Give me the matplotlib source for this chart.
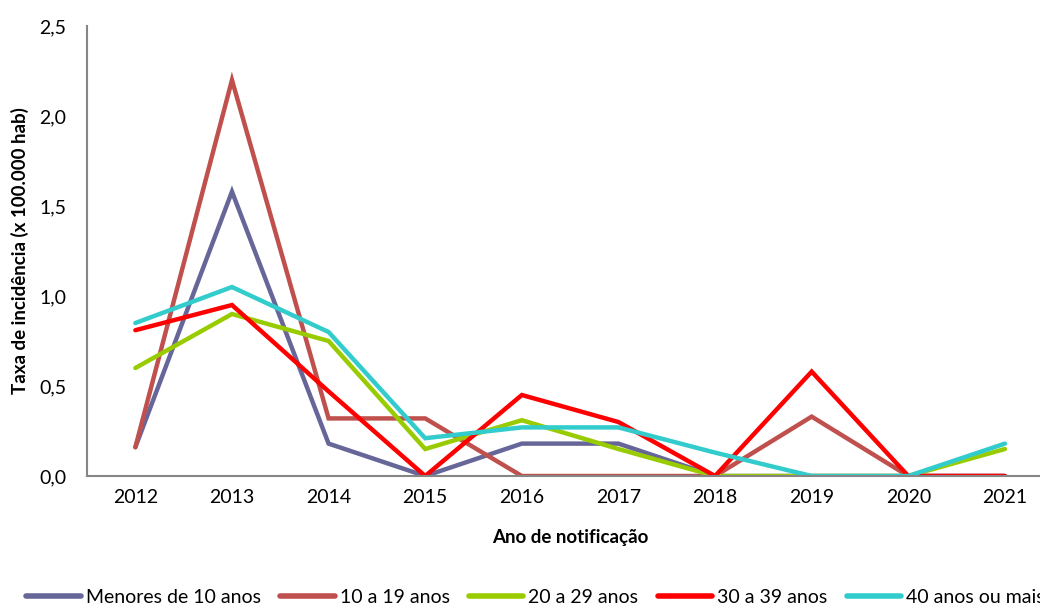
import matplotlib.pyplot as plt
import numpy as np

plt.rcParams['font.family'] = ['Lato', 'DejaVu Sans']

anos = ['2012', '2013', '2014', '2015', '2016', '2017', '2018', '2019', '2020', '2021']

menores_10 = [0.16, 1.58, 0.18, 0.0, 0.18, 0.18, 0.0, 0.0, 0.0, 0.0]
de_10_19 = [0.16, 2.20, 0.32, 0.32, 0.0, 0.0, 0.0, 0.33, 0.0, 0.0]
de_20_29 = [0.60, 0.90, 0.75, 0.15, 0.31, 0.15, 0.0, 0.0, 0.0, 0.15]
de_30_39 = [0.81, 0.95, 0.47, 0.0, 0.45, 0.30, 0.0, 0.58, 0.0, 0.0]
mais_40 = [0.85, 1.05, 0.80, 0.21, 0.27, 0.27, 0.13, 0.0, 0.0, 0.18]

series = [
    ('Menores de 10 anos', menores_10, '#666699'),
    ('10 a 19 anos', de_10_19, '#C0504D'),
    ('20 a 29 anos', de_20_29, '#99CC00'),
    ('30 a 39 anos', de_30_39, '#FF0000'),
    ('40 anos ou mais', mais_40, '#33CCCC'),
]

fig = plt.figure(figsize=(10.4, 6.05), dpi=100)
ax = fig.add_axes([0.0837, 0.2132, 0.929, 0.7438])

x = np.arange(len(anos))
for nome, vals, cor in series:
    ax.plot(x, vals, color=cor, lw=3.2, label=nome, solid_capstyle='round', solid_joinstyle='miter')

ax.set_xlim(-0.5, 9.5)
ax.set_ylim(0, 2.5)
ax.set_xticks(x)
ax.set_xticklabels(anos, fontsize=14)
yt = [0, 0.5, 1.0, 1.5, 2.0, 2.5]
ax.set_yticks(yt)
ax.set_yticklabels([f'{v:.1f}'.replace('.', ',') for v in yt], fontsize=14)
ax.tick_params(length=0, pad=15)
ax.tick_params(axis='x', pad=9)

for s in ['top', 'right']:
    ax.spines[s].set_visible(False)
for s in ['left', 'bottom']:
    ax.spines[s].set_color('#868686')
    ax.spines[s].set_linewidth(1.5)

ax.set_xlabel('Ano de notificação', fontsize=13.5, fontweight='bold', labelpad=17)
ax.set_ylabel('Taxa de incidência (x 100.000 hab)', fontsize=13.5, fontweight='bold', labelpad=7)

leg = fig.legend(loc='center left', bbox_to_anchor=(0.018, 0.013), ncol=5, frameon=False,
                 fontsize=14, handlelength=2.8, handletextpad=0.25, columnspacing=1.0,
                 borderaxespad=0)
for h in leg.get_lines():
    h.set_linewidth(4)

fig.savefig('out.png', dpi=100)
